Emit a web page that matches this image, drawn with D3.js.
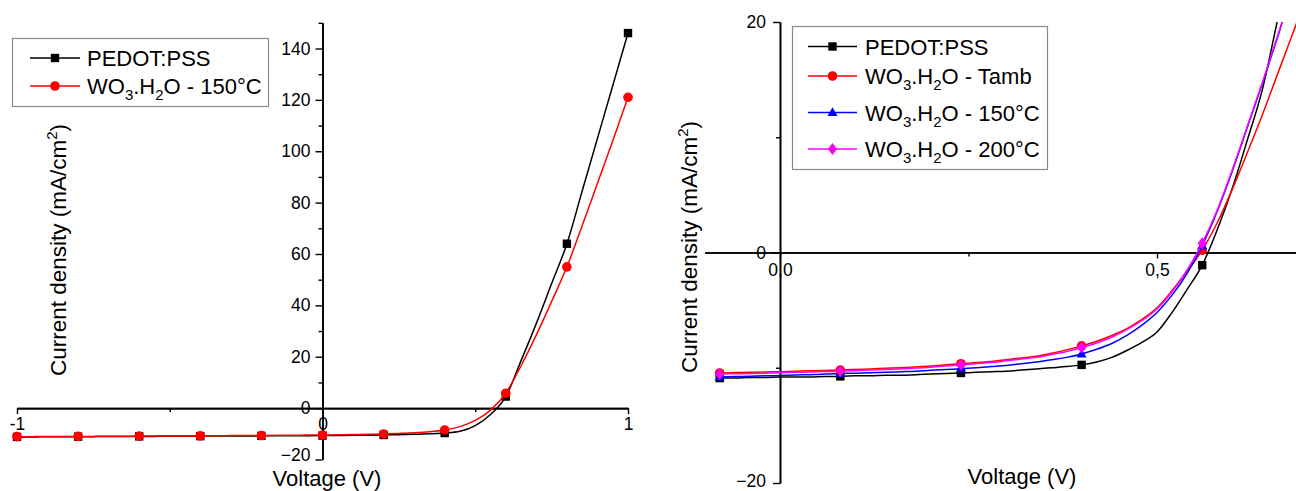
<!DOCTYPE html>
<html><head><meta charset="utf-8">
<script src="https://cdn.jsdelivr.net/npm/d3@7"></script>
<style>
html,body{margin:0;padding:0;background:#fff;}
svg{display:block;}
text{font-family:"Liberation Sans",Arial,sans-serif;fill:#000;}
</style></head><body>
<svg id="c" width="1296" height="491"></svg>
<script>
// ---------- DATA: left panel ----------
const leftVoltage = [-1.00,-0.95,-0.90,-0.85,-0.80,-0.75,-0.70,-0.65,-0.60,-0.55,-0.50,-0.45,-0.40,-0.35,-0.30,-0.25,-0.20,-0.15,-0.10,-0.05,0.00,0.05,0.10,0.15,0.20,0.25,0.30,0.35,0.40,0.45,0.50,0.55,0.60,0.65,0.70,0.75,0.80,0.85,0.90,0.95,1.00];
const leftPedot = [-11.2,-11.2,-11.15,-11.15,-11.1,-11.1,-11.05,-11.05,-11.0,-11.0,-10.95,-10.95,-10.9,-10.9,-10.85,-10.85,-10.8,-10.8,-10.75,-10.75,-10.7,-10.65,-10.6,-10.55,-10.45,-10.35,-10.2,-10.0,-9.7,-9.0,-6.8,-2.5,4.5,18.5,33,48.5,64,84.5,105,125.5,146];
const leftWO3_150 = [-11.1,-11.1,-11.05,-11.05,-11.0,-11.0,-10.95,-10.95,-10.9,-10.9,-10.85,-10.85,-10.8,-10.75,-10.7,-10.7,-10.65,-10.6,-10.55,-10.5,-10.45,-10.4,-10.3,-10.2,-10.05,-9.85,-9.6,-9.2,-8.5,-7.2,-4.8,-0.8,5.8,16.5,28.5,41.5,55,71,87.5,104,121];
const leftSeriesNames = ["PEDOT:PSS","WO3.H2O - 150°C"];
const leftYMajor = [-20,0,20,40,60,80,100,120,140];
const leftYMinor = [-10,10,30,50,70,90,110,130,150];
const leftXMajor = [-1,0,1];
const leftXMinor = [-0.5,0.5];
const leftXLabels = ["-1","0","1"];

// ---------- DATA: right panel ----------
const rightVoltage = [-0.08,-0.06,-0.04,-0.02,0.00,0.02,0.04,0.06,0.08,0.10,0.12,0.14,0.16,0.18,0.20,0.22,0.24,0.26,0.28,0.30,0.32,0.34,0.36,0.38,0.40,0.42,0.44,0.46,0.48,0.50,0.52,0.54,0.56,0.58,0.60,0.62,0.64,0.66,0.68,0.70];
const rightPedot = [-10.9,-10.9,-10.85,-10.85,-10.8,-10.8,-10.8,-10.75,-10.75,-10.7,-10.7,-10.65,-10.65,-10.6,-10.55,-10.5,-10.45,-10.4,-10.35,-10.3,-10.2,-10.1,-10.0,-9.9,-9.75,-9.5,-9.1,-8.5,-7.8,-6.9,-5.2,-3.2,-1.1,2.0,5.6,9.8,14.2,20.2,26,32];
const rightTamb = [-10.45,-10.42,-10.4,-10.37,-10.34,-10.3,-10.27,-10.23,-10.2,-10.15,-10.1,-10.05,-10.0,-9.93,-9.85,-9.75,-9.65,-9.55,-9.45,-9.3,-9.15,-9.0,-8.75,-8.45,-8.1,-7.7,-7.2,-6.6,-5.8,-4.8,-3.3,-1.6,0.2,2.6,5.5,8.7,12.0,15.5,19.0,22.5];
const right150 = [-10.8,-10.77,-10.74,-10.7,-10.67,-10.63,-10.6,-10.55,-10.5,-10.47,-10.43,-10.4,-10.35,-10.3,-10.22,-10.15,-10.08,-10.0,-9.9,-9.8,-9.65,-9.5,-9.3,-9.1,-8.8,-8.4,-7.9,-7.2,-6.3,-5.2,-3.7,-1.8,0.6,3.6,7.1,10.9,14.7,18.7,22.9,27];
const right200 = [-10.55,-10.52,-10.5,-10.47,-10.44,-10.4,-10.37,-10.33,-10.3,-10.25,-10.2,-10.15,-10.1,-10.03,-9.95,-9.85,-9.75,-9.65,-9.55,-9.4,-9.25,-9.1,-8.85,-8.6,-8.25,-7.85,-7.35,-6.7,-5.9,-4.9,-3.4,-1.5,0.8,3.7,7.2,11.0,14.8,18.8,23,27];
const rightSeriesNames = ["PEDOT:PSS","WO3.H2O - Tamb","WO3.H2O - 150°C","WO3.H2O - 200°C"];
const rightYMajor = [-20,0,20];
const rightYMinor = [-10,10];
const rightXMajor = [0,0.5];
const rightXMinor = [0.25];
const rightXLabels = ["0,0","0,5"];

const yTitle = "Current density (mA/cm";
const xTitle = "Voltage (V)";

// ---------- helpers ----------
const svg = d3.select("#c");
const TICKFONT = 17.5;

function drawMarker(g, shape, x, y, color) {
  if (shape === "square") {
    g.append("rect").attr("x", x-4.2).attr("y", y-4.2).attr("width", 8.4).attr("height", 8.4).attr("fill", color);
  } else if (shape === "circle") {
    g.append("circle").attr("cx", x).attr("cy", y).attr("r", 4.8).attr("fill", color);
  } else if (shape === "triangle") {
    g.append("path").attr("d", `M${x},${y-5.2}L${x+5},${y+3.6}L${x-5},${y+3.6}Z`).attr("fill", color);
  } else if (shape === "diamond") {
    g.append("path").attr("d", `M${x},${y-6}L${x+4.6},${y}L${x},${y+6}L${x-4.6},${y}Z`).attr("fill", color);
  }
}

function legendText(g, x, y, label) {
  const t = g.append("text").attr("x", x).attr("y", y).attr("font-size", 22);
  const re = /([A-Za-z])(\d)/g;
  let last = 0, m, shift = 0;
  const parts = [];
  while ((m = re.exec(label)) !== null) {
    parts.push({s: label.slice(last, m.index + 1), sub: false});
    parts.push({s: m[2], sub: true});
    last = m.index + 2;
  }
  parts.push({s: label.slice(last), sub: false});
  parts.forEach(p => {
    if (!p.s) return;
    const ts = t.append("tspan").text(p.s);
    if (p.sub) { ts.attr("font-size", 15).attr("dy", 6 - shift); shift = 6; }
    else { ts.attr("dy", -shift); shift = 0; }
  });
}

function yTitleText(x, y) {
  const t = svg.append("text").attr("transform", `translate(${x},${y}) rotate(-90)`)
    .attr("text-anchor", "middle").attr("font-size", 22.5);
  t.append("tspan").text(yTitle);
  t.append("tspan").text("2").attr("font-size", 15).attr("dy", -9);
  t.append("tspan").text(")").attr("dy", 9);
}

function panel(cfg) {
  const x = d3.scaleLinear().domain(cfg.xDomain).range(cfg.xRange);
  const y = d3.scaleLinear().domain(cfg.yDomain).range(cfg.yRange);
  const g = svg.append("g");
  const clipId = cfg.id + "-clip";
  svg.append("clipPath").attr("id", clipId).append("rect")
    .attr("x", cfg.clip[0]).attr("y", cfg.clip[1]).attr("width", cfg.clip[2]).attr("height", cfg.clip[3]);

  const x0 = x(0), y0 = y(0);
  const yAx = d3.axisLeft(y).tickValues(cfg.yMajor).tickSize(7).tickSizeOuter(0).tickPadding(cfg.yPad).tickFormat(d3.format("d"));
  const yAxMinor = d3.axisLeft(y).tickValues(cfg.yMinor).tickSize(4).tickSizeOuter(0).tickFormat("");
  const xAx = d3.axisBottom(x).tickValues(cfg.xMajor).tickSize(6).tickSizeOuter(0).tickPadding(cfg.xPad)
    .tickFormat((d,i) => cfg.xLabels[i]);
  const xAxMinor = d3.axisBottom(x).tickValues(cfg.xMinor).tickSize(4).tickSizeOuter(0).tickFormat("");

  [yAx, yAxMinor].forEach(a => {
    const ga = g.append("g").attr("transform", `translate(${x0},0)`).call(a);
    ga.selectAll("text").attr("font-size", TICKFONT).attr("font-family", '"Liberation Sans",Arial,sans-serif');
    ga.selectAll(".tick").filter(d => d === cfg.yDomain[0]).select("text").attr("dy", cfg.lowDy);
  });
  [xAx, xAxMinor].forEach(a => {
    const ga = g.append("g").attr("transform", `translate(0,${y0})`).call(a);
    ga.selectAll("text").attr("font-size", TICKFONT).attr("font-family", '"Liberation Sans",Arial,sans-serif');
  });
  g.selectAll(".domain").attr("stroke", "#000").attr("stroke-width", 1.6);
  g.selectAll(".tick line").attr("stroke", "#000").attr("stroke-width", 1.4);

  const plot = svg.append("g").attr("clip-path", `url(#${clipId})`);
  const line = d3.line().x(d => x(d[0])).y(d => y(d[1])).curve(d3.curveMonotoneX);
  cfg.series.forEach(s => {
    const pts = cfg.v.map((v,i) => [v, s.values[i]]);
    plot.append("path").datum(pts).attr("d", line).attr("fill", "none")
      .attr("stroke", s.color).attr("stroke-width", 1.5);
    pts.forEach((p,i) => { if (i % cfg.markerEvery === 0) drawMarker(plot, s.shape, x(p[0]), y(p[1]), s.color); });
  });

  const L = cfg.legend;
  const lg = svg.append("g");
  lg.append("rect").attr("x", L.x).attr("y", L.y).attr("width", L.w).attr("height", L.h)
    .attr("fill", "#fff").attr("stroke", "#8a8a8a").attr("stroke-width", 1.2);
  cfg.series.forEach((s,i) => {
    const ry = L.rows[i];
    lg.append("line").attr("x1", L.lx1).attr("x2", L.lx2).attr("y1", ry).attr("y2", ry)
      .attr("stroke", s.color).attr("stroke-width", 1.5);
    drawMarker(lg, s.shape, (L.lx1 + L.lx2) / 2, ry, s.color);
    legendText(lg, L.tx, ry + 8, s.name);
  });

  svg.append("text").attr("x", cfg.xTitlePos[0]).attr("y", cfg.xTitlePos[1]).attr("text-anchor", "middle")
    .attr("font-size", 22).text(xTitle);
  yTitleText(cfg.yTitlePos[0], cfg.yTitlePos[1]);
}

panel({
  id: "left",
  xDomain: [-1, 1], xRange: [17, 628],
  yDomain: [-20, 150], yRange: [459.5, 22.8],
  clip: [0, 0, 660, 491],
  yMajor: leftYMajor, yMinor: leftYMinor, xMajor: leftXMajor, xMinor: leftXMinor, xLabels: leftXLabels,
  yPad: 5, xPad: 3, lowDy: "0.05em",
  v: leftVoltage, markerEvery: 4,
  series: [
    {name: leftSeriesNames[0], values: leftPedot, color: "#000000", shape: "square"},
    {name: leftSeriesNames[1], values: leftWO3_150, color: "#ff0000", shape: "circle"}
  ],
  legend: {x: 12.5, y: 38.5, w: 256, h: 68, rows: [58, 86], lx1: 30, lx2: 80, tx: 87},
  xTitlePos: [327, 486], yTitlePos: [66, 250]
});

panel({
  id: "right",
  xDomain: [-0.1, 0.7], xRange: [704.6, 1307.8],
  yDomain: [-20, 20], yRange: [483, 22],
  clip: [700, 22, 596, 462],
  yMajor: rightYMajor, yMinor: rightYMinor, xMajor: rightXMajor, xMinor: rightXMinor, xLabels: rightXLabels,
  yPad: 7, xPad: 5, lowDy: "0.2em",
  v: rightVoltage, markerEvery: 8,
  series: [
    {name: rightSeriesNames[0], values: rightPedot, color: "#000000", shape: "square"},
    {name: rightSeriesNames[1], values: rightTamb, color: "#ff0000", shape: "circle"},
    {name: rightSeriesNames[2], values: right150, color: "#0000ff", shape: "triangle"},
    {name: rightSeriesNames[3], values: right200, color: "#ff00ff", shape: "diamond"}
  ],
  legend: {x: 792.5, y: 26.5, w: 255, h: 143, rows: [46.5, 76, 112.5, 149], lx1: 808, lx2: 857, tx: 865},
  xTitlePos: [1022, 484], yTitlePos: [697, 247]
});
</script>
</body></html>
